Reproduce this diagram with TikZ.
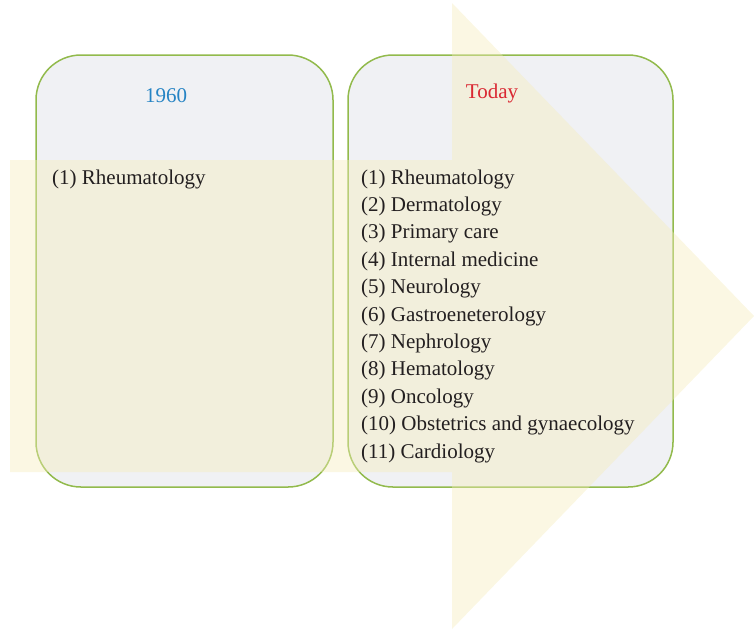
\documentclass[tikz,border=0pt]{standalone}
\usepackage{fontspec}
\setmainfont{Liberation Serif}
\usepackage{tikz}
\usetikzlibrary{calc}
\definecolor{boxgray}{RGB}{240,241,244}
\definecolor{boxgreen}{RGB}{146,186,76}
\definecolor{arrowyellow}{RGB}{245,236,185}
\definecolor{yearblue}{RGB}{38,132,196}
\definecolor{todayred}{RGB}{218,40,50}
\definecolor{textdark}{RGB}{35,31,32}
\tikzset{>=latex,
	panel/.style={draw=boxgreen, line width=1.5pt, fill=boxgray, rounded corners=45pt, inner sep=0pt},
	itemtext/.style={anchor=base west, inner sep=0pt, text=textdark, font=\fontsize{21}{27}\selectfont},
	headtext/.style={inner sep=0pt, font=\fontsize{21}{27}\selectfont},
}
\begin{document}
\begin{tikzpicture}[x=1pt,y=-1pt]
			\useasboundingbox (0,0) rectangle (754,630);
			\node[panel, minimum width=297pt, minimum height=432pt] (past) at (184.5,271) {};
			\node[panel, minimum width=325pt, minimum height=432pt] (now) at (510.5,271) {};
			\fill[arrowyellow, fill opacity=0.4] (10,160) -- (452,160) -- (452,3) -- (754,316) -- (452,629) -- (452,472) -- (10,472) -- cycle;
			\node[headtext, text=yearblue] (year) at (166,96) {1960};
			\node[headtext, text=todayred] (today) at (492,93) {Today};
			\node[itemtext] (old1) at (52,184) {(1) Rheumatology};
			\foreach \name [count=\i] in {Rheumatology, Dermatology, Primary care, Internal medicine, Neurology, Gastroeneterology, Nephrology, Hematology, Oncology, Obstetrics and gynaecology, Cardiology}
				\node[itemtext] (new\i) at (361,{184+27.4*(\i-1)}) {(\i) \name};
		\end{tikzpicture}
\end{document}
